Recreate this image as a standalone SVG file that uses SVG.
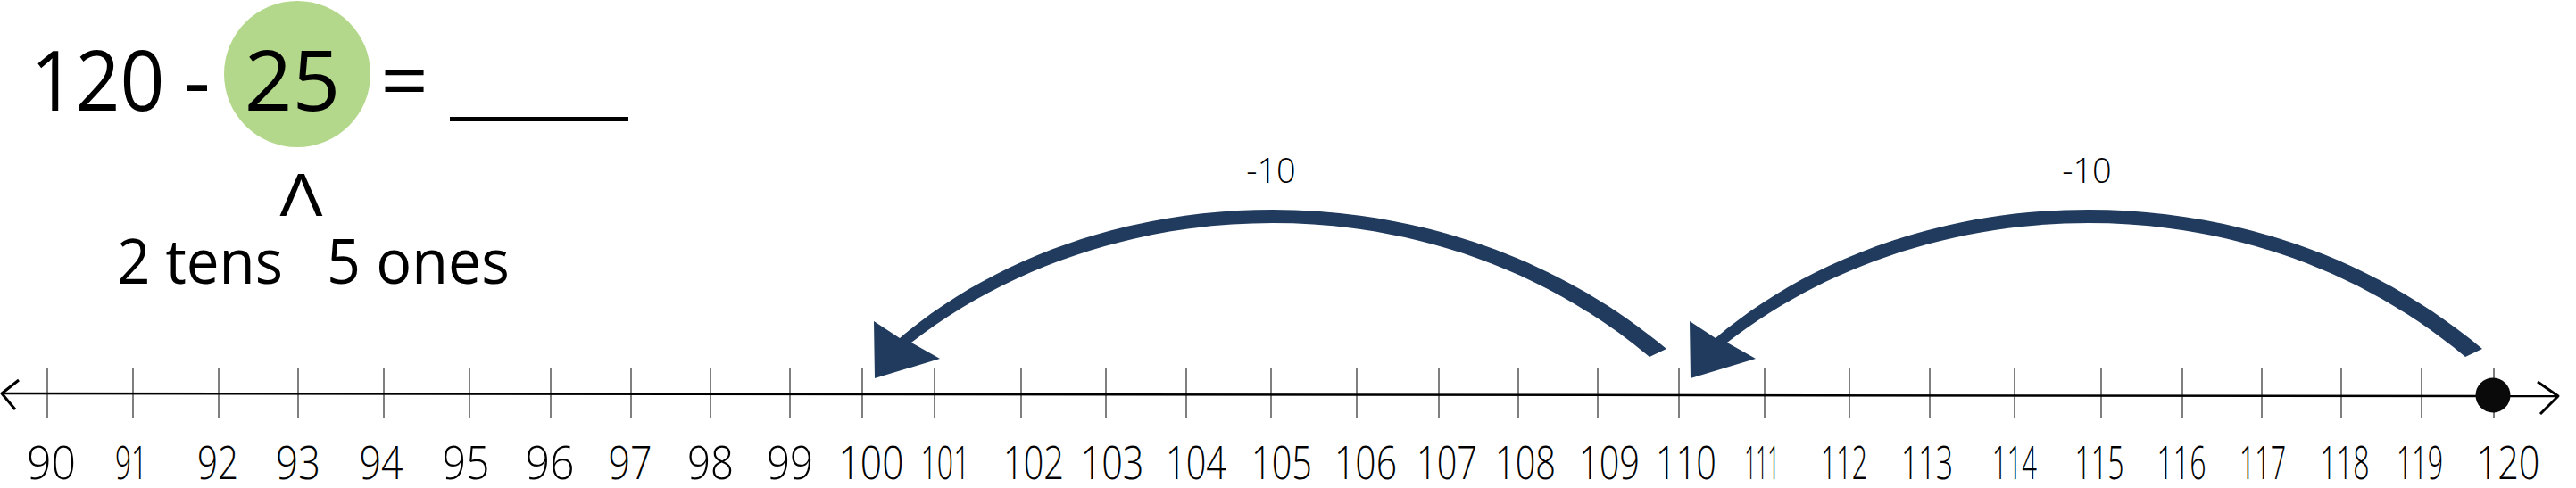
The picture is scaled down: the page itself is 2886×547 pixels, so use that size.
<svg xmlns="http://www.w3.org/2000/svg" xmlns:xlink="http://www.w3.org/1999/xlink" width="2886" height="547" viewBox="0 0 2886 547">
<style>
.eq{font-family:"Open Sans","Noto Sans",sans-serif;fill:#000}
.num{font-family:"Open Sans","Noto Sans",sans-serif;font-weight:300;font-size:52px;fill:#000}
.jump{font-family:"Open Sans","Noto Sans",sans-serif;font-weight:300;font-size:38px;fill:#000}
.tick{stroke:#555;stroke-width:1.5}
.arc{fill:#213B5E}
</style>
<defs>
<path id="jumpArc" d="M1867,391 C1614,179 1230,191 1008,379 L979,360 L980,424 L1053,402 L1021,384 C1243,210.7 1603,194.7 1848,400 Z"/>
</defs>
<rect width="2886" height="547" fill="#fff"/>

<g id="equation">
<circle cx="333" cy="83" r="82" fill="#B4D88B"/>
<text class="eq" x="109.5" y="124" font-size="94" text-anchor="middle" textLength="150" lengthAdjust="spacingAndGlyphs">120</text>
<text class="eq" x="220.5" y="124" font-size="94" text-anchor="middle">-</text>
<text class="eq" x="327.5" y="124" font-size="94" text-anchor="middle">25</text>
<text class="eq" x="453" y="124" font-size="94" text-anchor="middle">=</text>
<rect x="504" y="131" width="200" height="5" fill="#000"/>
</g>

<g id="decomposition">
<text class="eq" x="337.5" y="242" font-size="66" text-anchor="middle" textLength="48" lengthAdjust="spacingAndGlyphs">Λ</text>
<text class="eq" x="131" y="318" font-size="70" textLength="186" lengthAdjust="spacingAndGlyphs">2 tens</text>
<text class="eq" x="366" y="318" font-size="70" textLength="205" lengthAdjust="spacingAndGlyphs">5 ones</text>
</g>

<g id="number-line">
<line class="tick" x1="53" y1="412" x2="53" y2="469"/>
<line class="tick" x1="149" y1="412" x2="149" y2="469"/>
<line class="tick" x1="245" y1="412" x2="245" y2="469"/>
<line class="tick" x1="334" y1="412" x2="334" y2="469"/>
<line class="tick" x1="430" y1="412" x2="430" y2="469"/>
<line class="tick" x1="526" y1="412" x2="526" y2="469"/>
<line class="tick" x1="617" y1="412" x2="617" y2="469"/>
<line class="tick" x1="707" y1="412" x2="707" y2="469"/>
<line class="tick" x1="796" y1="412" x2="796" y2="469"/>
<line class="tick" x1="885" y1="412" x2="885" y2="469"/>
<line class="tick" x1="966" y1="412" x2="966" y2="469"/>
<line class="tick" x1="1047" y1="412" x2="1047" y2="469"/>
<line class="tick" x1="1144" y1="412" x2="1144" y2="469"/>
<line class="tick" x1="1239" y1="412" x2="1239" y2="469"/>
<line class="tick" x1="1329" y1="412" x2="1329" y2="469"/>
<line class="tick" x1="1424" y1="412" x2="1424" y2="469"/>
<line class="tick" x1="1520" y1="412" x2="1520" y2="469"/>
<line class="tick" x1="1612" y1="412" x2="1612" y2="469"/>
<line class="tick" x1="1701" y1="412" x2="1701" y2="469"/>
<line class="tick" x1="1790" y1="412" x2="1790" y2="469"/>
<line class="tick" x1="1881" y1="412" x2="1881" y2="469"/>
<line class="tick" x1="1977" y1="412" x2="1977" y2="469"/>
<line class="tick" x1="2072" y1="412" x2="2072" y2="469"/>
<line class="tick" x1="2162" y1="412" x2="2162" y2="469"/>
<line class="tick" x1="2257" y1="412" x2="2257" y2="469"/>
<line class="tick" x1="2354" y1="412" x2="2354" y2="469"/>
<line class="tick" x1="2445" y1="412" x2="2445" y2="469"/>
<line class="tick" x1="2534" y1="412" x2="2534" y2="469"/>
<line class="tick" x1="2623" y1="412" x2="2623" y2="469"/>
<line class="tick" x1="2713" y1="412" x2="2713" y2="469"/>
<line class="tick" x1="2794" y1="412" x2="2794" y2="469"/>
<line x1="2" y1="441" x2="2866" y2="444" stroke="#000" stroke-width="2.5"/>
<polyline points="21,426 2,441 17,459" fill="none" stroke="#000" stroke-width="3" stroke-linejoin="round"/>
<polyline points="2843,428 2866,444 2846,464" fill="none" stroke="#000" stroke-width="3" stroke-linejoin="round"/>
<circle cx="2793" cy="443" r="19.5" fill="#0a0a0a"/>
</g>

<g id="labels">
<text class="num" x="30" y="537" textLength="55" lengthAdjust="spacingAndGlyphs">90</text>
<text class="num" x="129" y="537" textLength="36" lengthAdjust="spacingAndGlyphs">91</text>
<text class="num" x="221" y="537" textLength="46" lengthAdjust="spacingAndGlyphs">92</text>
<text class="num" x="309" y="537" textLength="50" lengthAdjust="spacingAndGlyphs">93</text>
<text class="num" x="402.5" y="537" textLength="49" lengthAdjust="spacingAndGlyphs">94</text>
<text class="num" x="495.5" y="537" textLength="53" lengthAdjust="spacingAndGlyphs">95</text>
<text class="num" x="588.5" y="537" textLength="55" lengthAdjust="spacingAndGlyphs">96</text>
<text class="num" x="681.5" y="537" textLength="49" lengthAdjust="spacingAndGlyphs">97</text>
<text class="num" x="770" y="537" textLength="52" lengthAdjust="spacingAndGlyphs">98</text>
<text class="num" x="859" y="537" textLength="52" lengthAdjust="spacingAndGlyphs">99</text>
<text class="num" x="939.5" y="537" textLength="73" lengthAdjust="spacingAndGlyphs">100</text>
<text class="num" x="1031.5" y="537" textLength="55" lengthAdjust="spacingAndGlyphs">101</text>
<text class="num" x="1124" y="537" textLength="68" lengthAdjust="spacingAndGlyphs">102</text>
<text class="num" x="1210.5" y="537" textLength="71" lengthAdjust="spacingAndGlyphs">103</text>
<text class="num" x="1306" y="537" textLength="68" lengthAdjust="spacingAndGlyphs">104</text>
<text class="num" x="1402" y="537" textLength="68" lengthAdjust="spacingAndGlyphs">105</text>
<text class="num" x="1495" y="537" textLength="70" lengthAdjust="spacingAndGlyphs">106</text>
<text class="num" x="1587" y="537" textLength="68" lengthAdjust="spacingAndGlyphs">107</text>
<text class="num" x="1675" y="537" textLength="68" lengthAdjust="spacingAndGlyphs">108</text>
<text class="num" x="1769" y="537" textLength="68" lengthAdjust="spacingAndGlyphs">109</text>
<text class="num" x="1855" y="537" textLength="68" lengthAdjust="spacingAndGlyphs">110</text>
<text class="num" x="1954.5" y="537" textLength="39" lengthAdjust="spacingAndGlyphs">111</text>
<text class="num" x="2040" y="537" textLength="52" lengthAdjust="spacingAndGlyphs">112</text>
<text class="num" x="2130" y="537" textLength="58" lengthAdjust="spacingAndGlyphs">113</text>
<text class="num" x="2232" y="537" textLength="50" lengthAdjust="spacingAndGlyphs">114</text>
<text class="num" x="2324.5" y="537" textLength="55" lengthAdjust="spacingAndGlyphs">115</text>
<text class="num" x="2416.5" y="537" textLength="55" lengthAdjust="spacingAndGlyphs">116</text>
<text class="num" x="2509" y="537" textLength="52" lengthAdjust="spacingAndGlyphs">117</text>
<text class="num" x="2599.5" y="537" textLength="55" lengthAdjust="spacingAndGlyphs">118</text>
<text class="num" x="2685" y="537" textLength="52" lengthAdjust="spacingAndGlyphs">119</text>
<text class="num" x="2774.5" y="537" textLength="71" lengthAdjust="spacingAndGlyphs">120</text>
</g>

<g id="connectors">
<use xlink:href="#jumpArc" href="#jumpArc" class="arc"/>
<use xlink:href="#jumpArc" href="#jumpArc" class="arc" transform="translate(914,0)"/>
</g>

<g id="jump-labels">
<text class="jump" x="1424" y="205" text-anchor="middle">-10</text>
<text class="jump" x="2338" y="205" text-anchor="middle">-10</text>
</g>
</svg>
